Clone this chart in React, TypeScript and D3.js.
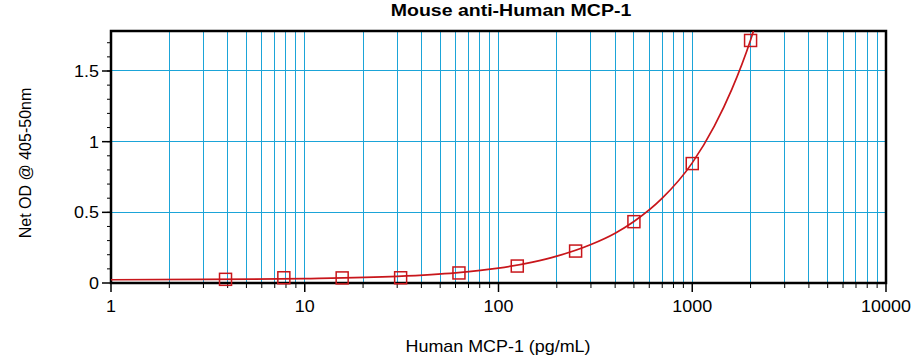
import { useMemo } from "react";
import * as d3 from "d3";

const W = 918;
const H = 362;
const MARGIN = { top: 31, right: 32, bottom: 79, left: 111 };
const INNER_W = W - MARGIN.left - MARGIN.right;
const INNER_H = H - MARGIN.top - MARGIN.bottom;

const FONT = '"Liberation Sans", Arial, Helvetica, sans-serif';
const GRID = "#1ba4d8";
const RED = "#c8161b";

// standards (pg/mL) and measured OD
const CONC = [3.9, 7.8, 15.6, 31.25, 62.5, 125, 250, 500, 1000, 2000];
const OD = [0.026, 0.037, 0.036, 0.037, 0.071, 0.12, 0.226, 0.434, 0.845, 1.716];

// fitted curve
const FIT_X = [1, 3, 10, 30, 60, 100, 150, 200, 300, 400, 500, 700, 1000, 1300, 1600, 2000, 2100];
const FIT_Y = [0.023, 0.025, 0.031, 0.047, 0.072, 0.105, 0.148, 0.19, 0.272, 0.352, 0.435, 0.6, 0.85, 1.11, 1.37, 1.72, 1.81];

const X_MAJOR = [1, 10, 100, 1000, 10000];
const Y_MAJOR = [0, 0.5, 1, 1.5];
const Y_LABELS = ["0", "0.5", "1", "1.5"];

export default function App() {
  const x = useMemo(
    () => d3.scaleLog().domain([1, 10000]).range([0, INNER_W]),
    []
  );
  const y = useMemo(
    () => d3.scaleLinear().domain([0, 1.783]).range([INNER_H, 0]),
    []
  );

  const xMinor = x.ticks().filter((v) => !X_MAJOR.includes(v));
  const yMinor = d3.range(1, 18).map((i) => i / 10);

  const fit = d3
    .line<number>()
    .x((_, i) => x(FIT_X[i]))
    .y((v) => y(v))
    .curve(d3.curveMonotoneX)(FIT_Y);

  return (
    <svg
      width={W}
      height={H}
      style={{ position: "absolute", left: 0, top: 0, background: "#fff" }}
    >
      <defs>
        <clipPath id="plot">
          <rect x={0} y={0} width={INNER_W} height={INNER_H} />
        </clipPath>
      </defs>

      <text
        transform={`translate(511,16) scale(1.22,1)`}
        textAnchor="middle"
        fontFamily={FONT}
        fontWeight={700}
        fontSize={16}
      >
        Mouse anti-Human MCP-1
      </text>

      <g transform={`translate(${MARGIN.left},${MARGIN.top})`}>
        <g shapeRendering="crispEdges">
          {/* vertical grid */}
          {x.ticks().map((v) => (
            <line
              key={"gx" + v}
              x1={x(v)}
              x2={x(v)}
              y1={0}
              y2={INNER_H}
              stroke={GRID}
              strokeWidth={1}
            />
          ))}
          {/* horizontal grid */}
          {Y_MAJOR.slice(1).map((v) => (
            <line
              key={"gy" + v}
              x1={0}
              x2={INNER_W}
              y1={y(v)}
              y2={y(v)}
              stroke={GRID}
              strokeWidth={1}
            />
          ))}
        </g>

        {/* frame */}
        <rect
          x={0}
          y={0}
          width={INNER_W}
          height={INNER_H}
          fill="none"
          stroke="#000"
          strokeWidth={2.5}
        />

        {/* x ticks */}
        {xMinor.map((v) => (
          <line
            key={"xm" + v}
            x1={x(v)}
            x2={x(v)}
            y1={INNER_H}
            y2={INNER_H + 5}
            stroke="#000"
            strokeWidth={1}
          />
        ))}
        {X_MAJOR.map((v) => (
          <g key={"xM" + v}>
            <line
              x1={x(v)}
              x2={x(v)}
              y1={INNER_H}
              y2={INNER_H + 9}
              stroke="#000"
              strokeWidth={1.5}
            />
            <text
              transform={`translate(${x(v)},${INNER_H + 29}) scale(1.12,1)`}
              textAnchor="middle"
              fontFamily={FONT}
              fontSize={16}
            >
              {v}
            </text>
          </g>
        ))}

        {/* y ticks */}
        {yMinor.map((v) => (
          <line
            key={"ym" + v}
            x1={-4}
            x2={0}
            y1={y(v)}
            y2={y(v)}
            stroke="#000"
            strokeWidth={1}
          />
        ))}
        {Y_MAJOR.map((v, i) => (
          <g key={"yM" + v}>
            <line
              x1={-9}
              x2={0}
              y1={y(v)}
              y2={y(v)}
              stroke="#000"
              strokeWidth={1.5}
            />
            <text
              transform={`translate(-12,${y(v) + 6}) scale(1.12,1)`}
              textAnchor="end"
              fontFamily={FONT}
              fontSize={16}
            >
              {Y_LABELS[i]}
            </text>
          </g>
        ))}

        {/* fitted curve */}
        <path
          d={fit ?? ""}
          fill="none"
          stroke={RED}
          strokeWidth={1.7}
          clipPath="url(#plot)"
        />

        {/* standards */}
        {CONC.map((c, i) => (
          <rect
            key={"p" + c}
            x={x(c) - 6}
            y={y(OD[i]) - 6}
            width={12}
            height={12}
            fill="none"
            stroke={RED}
            strokeWidth={1.5}
          />
        ))}
      </g>

      <text
        transform={`translate(498,352) scale(1.12,1)`}
        textAnchor="middle"
        fontFamily={FONT}
        fontSize={16}
      >
        Human MCP-1 (pg/mL)
      </text>
      <text
        transform={`translate(31,163) rotate(-90)`}
        textAnchor="middle"
        fontFamily={FONT}
        fontSize={16}
      >
        Net OD @ 405-50nm
      </text>
    </svg>
  );
}
